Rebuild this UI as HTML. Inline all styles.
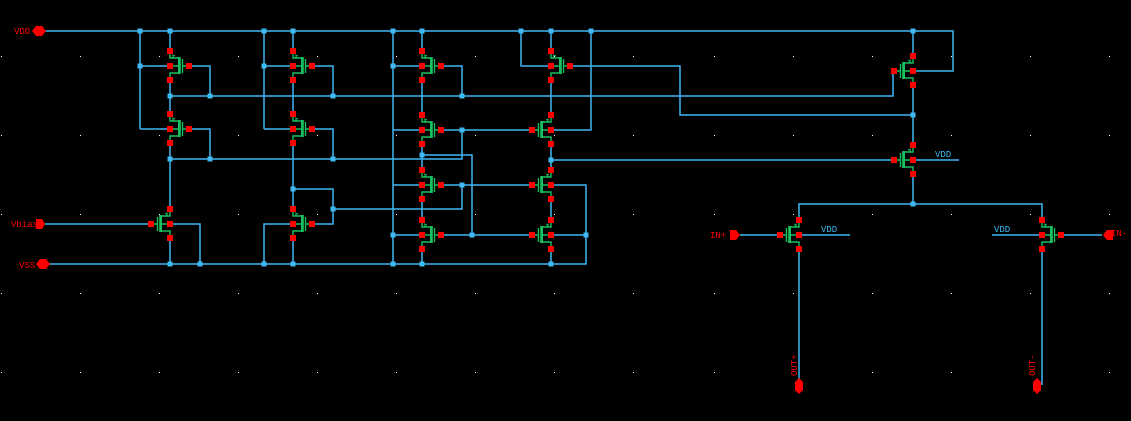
<!DOCTYPE html>
<html><head><meta charset="utf-8"><style>
html,body{margin:0;padding:0;background:#000;}
svg{display:block;}
text{font-family:"Liberation Mono",monospace;font-size:9px;}
</style></head><body>
<svg width="1131" height="421" viewBox="0 0 1131 421" xmlns="http://www.w3.org/2000/svg">
<defs>
<g id="t">
<path d="M0,-12 V-8 H9 M0,0 H9 M0,11 V7 H9 M12.5,-7 V7 M12.5,0 H19" stroke="#18c060" stroke-width="1.4" fill="none"/>
<rect x="8" y="-9" width="2.8" height="17" fill="#18c060"/>
<path d="M2,-11 l3,1 M2,-9 l2,0" stroke="#18c060" stroke-width="1" fill="none"/>
<rect x="-3" y="-18" width="6" height="6" fill="#f00"/>
<rect x="-3" y="-3" width="6" height="6" fill="#f00"/>
<rect x="-3" y="11" width="6" height="6" fill="#f00"/>
<rect x="16" y="-3" width="6" height="6" fill="#f00"/>
</g>
<rect id="d" x="-2.5" y="-2.5" width="5" height="5" fill="#3fb8f4"/>
</defs>
<g stroke="#3fb8f4" stroke-width="1.5" fill="none">
<path d="M45,31 H953 V71 H913"/>
<path d="M140,31 V129 M140,66 H170 M140,129 H170"/>
<path d="M170,31 V51 M170,80 V114 M170,143 V209 M170,238 V264"/>
<path d="M189,66 H210 V96 M170,96 H893 V71"/>
<path d="M189,129 H210 V159 M170,159 H462 V130"/>
<path d="M45,224 H151 M170,224 H200 V264 M45,264 H586 V185 H551 M551,235 H586"/>
<path d="M264,31 V129 M264,66 H293 M264,129 H293"/>
<path d="M293,31 V51 M293,80 V114 M293,143 V209 M293,238 V264"/>
<path d="M313,66 H333 V96 M313,129 H333 V159"/>
<path d="M313,224 H333 V189 H293 M333,209 H462 V185 M293,224 H264 V264"/>
<path d="M393,31 V264 M393,66 H422 M393,130 H422 M393,185 H422 M393,235 H422"/>
<path d="M422,31 V51 M422,80 V115 M422,145 V170 M422,199 V220 M422,249 V264"/>
<path d="M422,155 H472 V235 M442,235 H531 M442,66 H462 V96 M442,130 H531 M442,185 H531"/>
<path d="M521,31 V66 H551"/>
<path d="M551,31 V51 M551,80 V115 M551,145 V170 M551,199 V220 M551,249 V264"/>
<path d="M571,66 H680 V115 H913 M591,31 V130 H551 M551,160 H893"/>
<path d="M913,31 V56 M913,85 V145 M913,174 V204 M913,160 H959"/>
<path d="M799,220 V204 H1042 V220 M740,235 H779 M799,235 H850 M1062,235 H1102 M1042,235 H992"/>
<path d="M799,249 V385 M1042,249 V385"/>
</g>
<use href="#t" transform="translate(170,66)"/>
<use href="#t" transform="translate(170,129)"/>
<use href="#t" transform="translate(170,224) scale(-1,1)"/>
<use href="#t" transform="translate(293,66)"/>
<use href="#t" transform="translate(293,129)"/>
<use href="#t" transform="translate(293,224)"/>
<use href="#t" transform="translate(422,66)"/>
<use href="#t" transform="translate(422,130)"/>
<use href="#t" transform="translate(422,185)"/>
<use href="#t" transform="translate(422,235)"/>
<use href="#t" transform="translate(551,66)"/>
<use href="#t" transform="translate(551,130) scale(-1,1)"/>
<use href="#t" transform="translate(551,185) scale(-1,1)"/>
<use href="#t" transform="translate(551,235) scale(-1,1)"/>
<use href="#t" transform="translate(913,71) scale(-1,1)"/>
<use href="#t" transform="translate(913,160) scale(-1,1)"/>
<use href="#t" transform="translate(799,235) scale(-1,1)"/>
<use href="#t" transform="translate(1042,235)"/>
<g>
<use href="#d" x="140" y="31"/><use href="#d" x="170" y="31"/><use href="#d" x="264" y="31"/><use href="#d" x="293" y="31"/>
<use href="#d" x="393" y="31"/><use href="#d" x="422" y="31"/><use href="#d" x="521" y="31"/><use href="#d" x="551" y="31"/>
<use href="#d" x="591" y="31"/><use href="#d" x="913" y="31"/><use href="#d" x="140" y="66"/><use href="#d" x="264" y="66"/>
<use href="#d" x="393" y="66"/><use href="#d" x="170" y="96"/><use href="#d" x="210" y="96"/><use href="#d" x="333" y="96"/>
<use href="#d" x="462" y="96"/><use href="#d" x="170" y="159"/><use href="#d" x="210" y="159"/><use href="#d" x="333" y="159"/>
<use href="#d" x="462" y="130"/><use href="#d" x="422" y="155"/><use href="#d" x="462" y="185"/><use href="#d" x="472" y="235"/>
<use href="#d" x="393" y="235"/><use href="#d" x="393" y="264"/><use href="#d" x="422" y="264"/><use href="#d" x="551" y="264"/>
<use href="#d" x="586" y="235"/><use href="#d" x="551" y="160"/><use href="#d" x="913" y="115"/><use href="#d" x="913" y="204"/>
<use href="#d" x="293" y="189"/><use href="#d" x="333" y="209"/><use href="#d" x="170" y="264"/><use href="#d" x="200" y="264"/>
<use href="#d" x="264" y="264"/><use href="#d" x="293" y="264"/>
</g>
<g fill="#f00">
<polygon points="32,31 36,26 42,26 46,31 42,36 36,36"/>
<polygon points="36,219 42,219 45,224 42,229 36,229"/>
<polygon points="36,264 40,259 46,259 50,264 46,269 40,269"/>
<polygon points="730,230 736,230 740,235 736,240 730,240"/>
<polygon points="1113,230 1107,230 1103,235 1107,240 1113,240"/>
<polygon points="799,378 803,382 803,390 799,394 795,390 795,382"/>
<polygon points="1037,378 1041,382 1041,390 1037,394 1033,390 1033,382"/>
</g>
<g fill="#f00">
<text x="14" y="34">VDD</text>
<text x="11" y="227">Vbias</text>
<text x="19" y="268">VSS</text>
<text x="710" y="238">IN+</text>
<text x="1111" y="236">IN-</text>
<text transform="translate(797,376) rotate(-90)">OUT+</text>
<text transform="translate(1035,376) rotate(-90)">OUT-</text>
</g>
<g fill="#3fb8f4">
<text x="935" y="157">VDD</text>
<text x="821" y="232">VDD</text>
<text x="994" y="232">VDD</text>
</g>
<g fill="#fff">
<rect x="1" y="56" width="1" height="1"/><rect x="80" y="56" width="1" height="1"/><rect x="159" y="56" width="1" height="1"/><rect x="238" y="56" width="1" height="1"/><rect x="317" y="56" width="1" height="1"/><rect x="396" y="56" width="1" height="1"/><rect x="475" y="56" width="1" height="1"/><rect x="554" y="56" width="1" height="1"/><rect x="633" y="56" width="1" height="1"/><rect x="714" y="56" width="1" height="1"/><rect x="793" y="56" width="1" height="1"/><rect x="872" y="56" width="1" height="1"/><rect x="951" y="56" width="1" height="1"/><rect x="1030" y="56" width="1" height="1"/><rect x="1109" y="56" width="1" height="1"/>
<rect x="1" y="135" width="1" height="1"/><rect x="80" y="135" width="1" height="1"/><rect x="159" y="135" width="1" height="1"/><rect x="238" y="135" width="1" height="1"/><rect x="317" y="135" width="1" height="1"/><rect x="396" y="135" width="1" height="1"/><rect x="475" y="135" width="1" height="1"/><rect x="554" y="135" width="1" height="1"/><rect x="633" y="135" width="1" height="1"/><rect x="714" y="135" width="1" height="1"/><rect x="793" y="135" width="1" height="1"/><rect x="872" y="135" width="1" height="1"/><rect x="951" y="135" width="1" height="1"/><rect x="1030" y="135" width="1" height="1"/><rect x="1109" y="135" width="1" height="1"/>
<rect x="1" y="214" width="1" height="1"/><rect x="80" y="214" width="1" height="1"/><rect x="159" y="214" width="1" height="1"/><rect x="238" y="214" width="1" height="1"/><rect x="317" y="214" width="1" height="1"/><rect x="396" y="214" width="1" height="1"/><rect x="475" y="214" width="1" height="1"/><rect x="554" y="214" width="1" height="1"/><rect x="633" y="214" width="1" height="1"/><rect x="714" y="214" width="1" height="1"/><rect x="793" y="214" width="1" height="1"/><rect x="872" y="214" width="1" height="1"/><rect x="951" y="214" width="1" height="1"/><rect x="1030" y="214" width="1" height="1"/><rect x="1109" y="214" width="1" height="1"/>
<rect x="1" y="293" width="1" height="1"/><rect x="80" y="293" width="1" height="1"/><rect x="159" y="293" width="1" height="1"/><rect x="238" y="293" width="1" height="1"/><rect x="317" y="293" width="1" height="1"/><rect x="396" y="293" width="1" height="1"/><rect x="475" y="293" width="1" height="1"/><rect x="554" y="293" width="1" height="1"/><rect x="633" y="293" width="1" height="1"/><rect x="714" y="293" width="1" height="1"/><rect x="793" y="293" width="1" height="1"/><rect x="872" y="293" width="1" height="1"/><rect x="951" y="293" width="1" height="1"/><rect x="1030" y="293" width="1" height="1"/><rect x="1109" y="293" width="1" height="1"/>
<rect x="1" y="372" width="1" height="1"/><rect x="80" y="372" width="1" height="1"/><rect x="159" y="372" width="1" height="1"/><rect x="238" y="372" width="1" height="1"/><rect x="317" y="372" width="1" height="1"/><rect x="396" y="372" width="1" height="1"/><rect x="475" y="372" width="1" height="1"/><rect x="554" y="372" width="1" height="1"/><rect x="633" y="372" width="1" height="1"/><rect x="714" y="372" width="1" height="1"/><rect x="872" y="372" width="1" height="1"/><rect x="951" y="372" width="1" height="1"/><rect x="1109" y="372" width="1" height="1"/>
</g>
</svg>
</body></html>
